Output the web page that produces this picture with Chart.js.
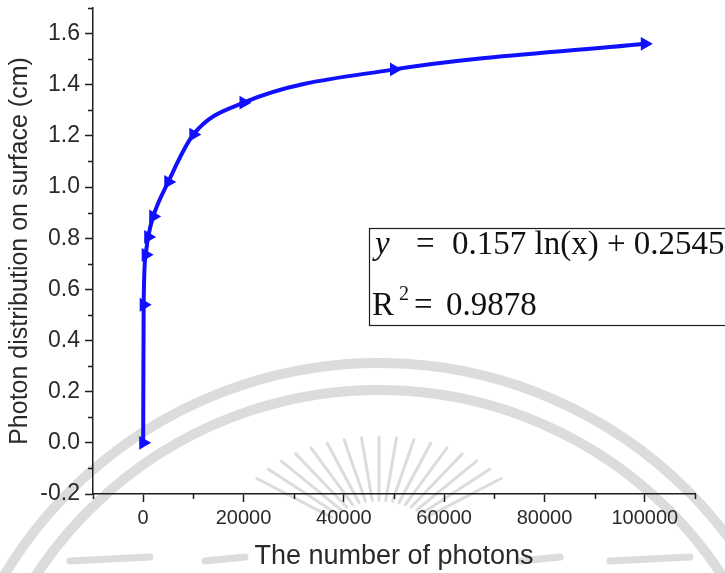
<!DOCTYPE html>
<html>
<head>
<meta charset="utf-8">
<script src="https://cdn.jsdelivr.net/npm/chart.js@4.4.1/dist/chart.umd.min.js"></script>
<style>
  html, body { margin: 0; padding: 0; background: #fff; }
  #wrap { width: 725px; height: 573px; position: relative; }
</style>
</head>
<body>
<div id="wrap"><canvas id="photonChart" width="725" height="573"></canvas></div>
<script>
// number of photons launched vs. spread of the spot on the surface (cm)
const photonCounts = [0, 100, 500, 1000, 2000, 5000, 10000, 20000, 50000, 100000];
const spreadCm = [0, 0.54, 0.735, 0.805, 0.885, 1.02, 1.205, 1.33, 1.46, 1.56];

const xTickLabels = [0, 20000, 40000, 60000, 80000, 100000];
const yTickLabels = [-0.2, 0, 0.2, 0.4, 0.6, 0.8, 1.0, 1.2, 1.4, 1.6];

const fitEquation = ["y", "=", "0.157 ln(x) + 0.2545"];
const fitR2 = ["R", "2", "=", "0.9878"];

const AXIS_COLOR = "#1e1e1e";
const TEXT_COLOR = "#2a2a2a";
const SANS = "'Liberation Sans', Arial, sans-serif";
const SERIF = "'Liberation Serif', 'Times New Roman', serif";

const tenths = (v) => Math.round(v * 10);
const isMajorX = (v) => xTickLabels.includes(v);
const isMajorY = (v) => yTickLabels.some((t) => tenths(t) === tenths(v));

// white page plus the faint university seal printed behind the figure
const backdrop = {
  id: "backdrop",
  beforeDraw(chart) {
    const { ctx, width, height } = chart;
    ctx.save();
    ctx.fillStyle = "#fff";
    ctx.fillRect(0, 0, width, height);

    ctx.strokeStyle = "rgba(205,205,205,0.7)";
    ctx.lineWidth = 10;
    ctx.lineCap = "round";
    [437, 410].forEach((r) => {
      ctx.beginPath();
      ctx.arc(379, 800, r, Math.PI * 1.02, Math.PI * 1.98);
      ctx.stroke();
    });

    // sun rays
    ctx.lineWidth = 3;
    for (let a = -142; a <= -38; a += 6.5) {
      const t = (a * Math.PI) / 180;
      ctx.beginPath();
      ctx.moveTo(379 + Math.cos(t) * 60, 545 + Math.sin(t) * 45);
      ctx.lineTo(379 + Math.cos(t) * 155, 545 + Math.sin(t) * 108);
      ctx.stroke();
    }

    // lower ornaments
    ctx.lineWidth = 7;
    [[70, 150], [205, 245], [520, 560], [610, 690]].forEach(([a, b]) => {
      ctx.beginPath();
      ctx.moveTo(a, 561);
      ctx.lineTo(b, 557);
      ctx.stroke();
    });
    ctx.restore();
  },
};

// short minor ticks between the labelled ones
const minorTicks = {
  id: "minorTicks",
  afterDraw(chart) {
    const { ctx, scales: { x, y }, chartArea } = chart;
    ctx.save();
    ctx.strokeStyle = AXIS_COLOR;
    ctx.lineWidth = 1.5;
    ctx.beginPath();
    x.ticks.forEach((t) => {
      if (isMajorX(t.value)) return;
      const px = Math.round(x.getPixelForValue(t.value)) + 0.5;
      ctx.moveTo(px, chartArea.bottom);
      ctx.lineTo(px, chartArea.bottom + 5);
    });
    y.ticks.forEach((t) => {
      if (isMajorY(t.value)) return;
      const py = Math.round(y.getPixelForValue(t.value)) + 0.5;
      ctx.moveTo(chartArea.left, py);
      ctx.lineTo(chartArea.left - 5, py);
    });
    ctx.stroke();
    ctx.restore();
  },
};

// logarithmic fit annotation box
const fitBox = {
  id: "fitBox",
  afterDraw(chart) {
    const { ctx } = chart;
    ctx.save();
    ctx.strokeStyle = AXIS_COLOR;
    ctx.lineWidth = 1.2;
    ctx.fillStyle = "#fff";
    ctx.fillRect(369.5, 228.5, 420, 97);
    ctx.strokeRect(369.5, 228.5, 420, 97);

    ctx.fillStyle = "#111";
    ctx.textBaseline = "alphabetic";
    ctx.font = `italic 33px ${SERIF}`;
    ctx.fillText(fitEquation[0], 375, 254);
    ctx.font = `33px ${SERIF}`;
    ctx.fillText(fitEquation[1], 416, 254);
    ctx.fillText(fitEquation[2], 452, 254);

    ctx.fillText(fitR2[0], 372, 315);
    ctx.font = `20px ${SERIF}`;
    ctx.fillText(fitR2[1], 399, 300);
    ctx.font = `33px ${SERIF}`;
    ctx.fillText(fitR2[2], 414, 315);
    ctx.fillText(fitR2[3], 446, 315);
    ctx.restore();
  },
};

const ctx = document.getElementById("photonChart").getContext("2d");

new Chart(ctx, {
  type: "line",
  data: {
    datasets: [
      {
        data: photonCounts.map((n, i) => ({ x: n, y: spreadCm[i] })),
        borderColor: "#1010ff",
        backgroundColor: "#1010ff",
        borderWidth: 4,
        cubicInterpolationMode: "monotone",
        pointStyle: "triangle",
        rotation: 90,
        pointRadius: 8,
        pointBorderWidth: 0,
        fill: false,
      },
    ],
  },
  options: {
    responsive: false,
    animation: false,
    layout: { padding: { top: 7, right: 30, left: 0, bottom: 0 } },
    plugins: {
      legend: { display: false },
      tooltip: { enabled: false },
    },
    scales: {
      x: {
        type: "linear",
        min: -10000,
        max: 110000,
        afterFit: (s) => {
          s.height = 79;
          s.paddingRight = 0;
          s.paddingLeft = 0;
        },
        border: { color: AXIS_COLOR, width: 1.5 },
        grid: {
          drawOnChartArea: false,
          tickLength: 8,
          tickWidth: 1.5,
          tickColor: (c) => (c.tick && isMajorX(c.tick.value) ? AXIS_COLOR : "transparent"),
        },
        ticks: {
          stepSize: 10000,
          autoSkip: false,
          maxRotation: 0,
          padding: 4,
          color: TEXT_COLOR,
          font: { family: SANS, size: 20 },
          callback: (v) => (isMajorX(v) ? String(v) : ""),
        },
        title: {
          display: true,
          text: "The number of photons",
          color: TEXT_COLOR,
          font: { family: SANS, size: 27 },
          padding: { top: 0, bottom: 0 },
        },
      },
      y: {
        min: -0.2,
        max: 1.7,
        afterFit: (s) => {
          s.width = 93;
          s.paddingTop = 0;
          s.paddingBottom = 0;
        },
        border: { color: AXIS_COLOR, width: 1.5 },
        grid: {
          drawOnChartArea: false,
          tickLength: 8,
          tickWidth: 1.5,
          tickColor: (c) => (c.tick && isMajorY(c.tick.value) ? AXIS_COLOR : "transparent"),
        },
        ticks: {
          stepSize: 0.1,
          autoSkip: false,
          padding: 5,
          color: TEXT_COLOR,
          font: { family: SANS, size: 23 },
          callback: (v) => (isMajorY(v) ? (tenths(v) / 10).toFixed(1) : ""),
        },
        title: {
          display: true,
          text: "Photon distribution on surface (cm)",
          color: TEXT_COLOR,
          font: { family: SANS, size: 25 },
          padding: { top: 5, bottom: 0 },
        },
      },
    },
  },
  plugins: [backdrop, minorTicks, fitBox],
});
</script>
</body>
</html>
